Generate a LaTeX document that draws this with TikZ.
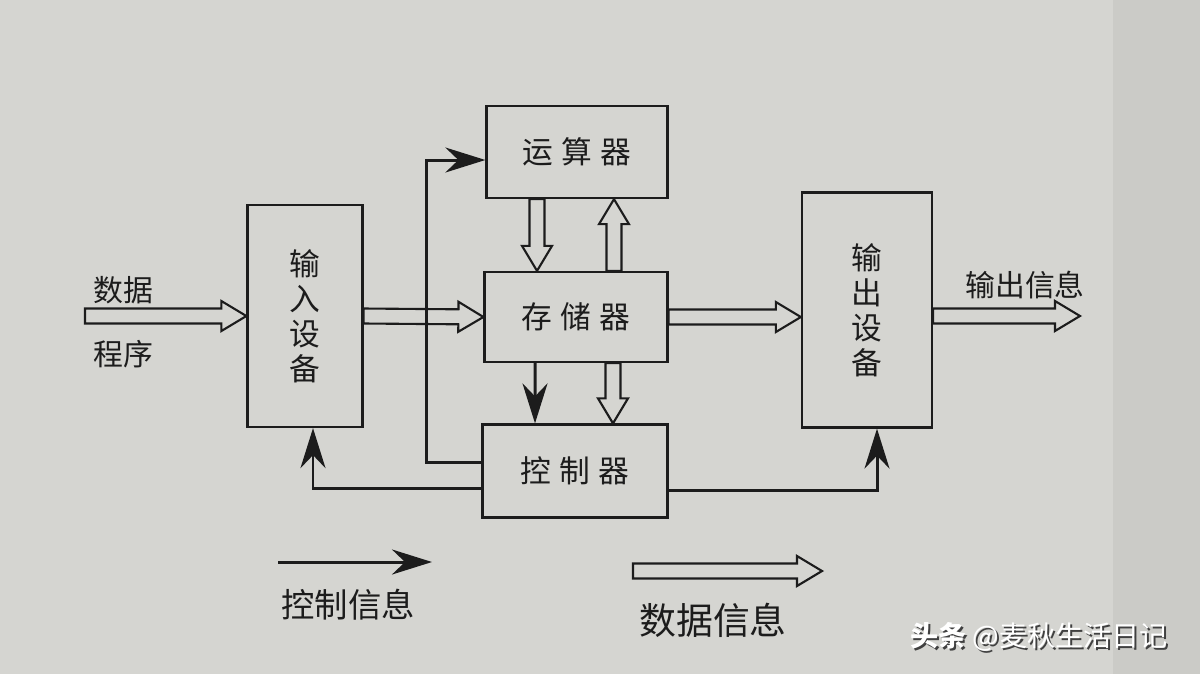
\documentclass[tikz,border=0pt]{standalone}
\usepackage{fontspec}
\setmainfont{Noto Sans CJK SC}
\usetikzlibrary{arrows.meta, calc}
\definecolor{paperGray}{RGB}{213,213,209}
\definecolor{edgeGray}{RGB}{203,203,199}
\definecolor{inkBlack}{RGB}{28,28,28}

\newcommand{\boxFont}{\fontsize{17.5}{20}\selectfont}
\newcommand{\lblFont}{\fontsize{17}{20}\selectfont}
\newcommand{\cjkGap}{\kern0.28em}

% hollow data arrow from #1 to #2
\newcommand{\dataArrow}[2]{%
	\coordinate (neck) at ($(#2)!0.5cm!(#1)$);
	\draw[dataBar] ($(#1)!0.15cm!90:(#2)$) -- ($(neck)!0.15cm!90:(#2)$) -- ($(neck)!0.3cm!90:(#2)$) -- (#2) -- ($(neck)!0.3cm!-90:(#2)$) -- ($(neck)!0.15cm!-90:(#2)$) -- ($(#1)!0.15cm!-90:(#2)$) -- cycle;}

\begin{document}
\begin{tikzpicture}[x=0.02cm, y=-0.02cm,
	box/.style={draw=inkBlack, line width=1.3pt, inner sep=0pt, font=\boxFont, text=inkBlack},
	ctrlLine/.style={draw=inkBlack, line width=1.7pt, -{Stealth[length=0.8cm, width=0.5cm, inset=0.26cm]}},
	dataBar/.style={draw=inkBlack, line width=1.2pt, fill=paperGray, line join=miter},
	lbl/.style={font=\lblFont, text=inkBlack, inner sep=0pt}]

% Paper.

	\fill[paperGray] (0,0) rectangle (1200,674);
	\fill[edgeGray] (1113,0) rectangle (1200,674);
	\useasboundingbox (0,0) rectangle (1200,674);

% Define nodes.

	%units
	\node[box, minimum width=2.3cm, minimum height=4.44cm, align=center] (inbox) at (305, 316) {输\\入\\设\\备};
	\node[box, minimum width=3.62cm, minimum height=1.84cm] (alu) at (577, 152) {运\cjkGap 算\cjkGap 器};
	\node[box, minimum width=3.66cm, minimum height=1.8cm] (mem) at (576, 317) {存\cjkGap 储\cjkGap 器};
	\node[box, minimum width=3.7cm, minimum height=1.86cm] (ctrl) at (575, 471) {控\cjkGap 制\cjkGap 器};
	\node[box, minimum width=2.6cm, minimum height=4.7cm, align=center] (outbox) at (867, 310) {输\\出\\设\\备};

	%labels
	\node[lbl] (dataLbl) at (123, 290) {数据};
	\node[lbl] (progLbl) at (123, 354) {程序};
	\node[lbl] (outLbl) at (1025, 285) {输出信息};
	\node[lbl, font=\fontsize{19}{22}\selectfont] (ctrlKeyLbl) at (348, 605) {控制信息};
	\node[lbl, font=\fontsize{21}{24}\selectfont] (dataKeyLbl) at (713, 620) {数据信息};

	%arrow ends
	\coordinate (dataIn) at (85, 316);
	\coordinate (memOut) at (mem.east -| outbox.west);
	\coordinate (outTail) at ([yshift=-1.2mm]outbox.east);
	\coordinate (dataOut) at (1080, 316);
	\coordinate (aluDown) at ([xshift=-8mm]alu.south);
	\coordinate (memTop) at (aluDown |- mem.north);
	\coordinate (aluUp) at ([xshift=7.4mm]alu.south);
	\coordinate (memUp) at (aluUp |- mem.north);
	\coordinate (memDown) at ([xshift=7.4mm]mem.south);
	\coordinate (ctrlTop) at (memDown |- ctrl.north);
	\coordinate (ctrlKeyTail) at (278, 562);
	\coordinate (ctrlKeyHead) at (432, 562);
	\coordinate (dataKeyTail) at (633, 571);
	\coordinate (dataKeyHead) at (822, 571);

% Draw data arrows.

	\dataArrow{dataIn}{inbox.west}
	\dataArrow{inbox.east}{mem.west}
	\dataArrow{mem.east}{memOut}
	\dataArrow{outTail}{dataOut}
	\dataArrow{aluDown}{memTop}
	\dataArrow{memUp}{aluUp}
	\dataArrow{memDown}{ctrlTop}
	\dataArrow{dataKeyTail}{dataKeyHead}

% Draw control arrows.

	\draw[ctrlLine] ([xshift=-8.2mm]mem.south) -- ([xshift=-8mm]ctrl.north);
	\draw[ctrlLine] ([yshift=1.8mm]ctrl.west) -- ++(-55,0) |- ([yshift=-1.6mm]alu.west);
	\draw[ctrlLine] ([yshift=-3.4mm]ctrl.west) -| ([xshift=1.6mm]inbox.south);
	\draw[ctrlLine] ([yshift=-3.8mm]ctrl.east) -| ([xshift=2mm]outbox.south);
	\draw[ctrlLine] (ctrlKeyTail) -- (ctrlKeyHead);

% Watermark.

	\node[font=\fontsize{16}{18}\selectfont, text=black!75] (wmShadow) at (1041, 639) {{\bfseries 头条} @麦秋生活日记};
	\node[font=\fontsize{16}{18}\selectfont, text=white] (wm) at (1039, 637) {{\bfseries 头条} @麦秋生活日记};

\end{tikzpicture}
\end{document}
